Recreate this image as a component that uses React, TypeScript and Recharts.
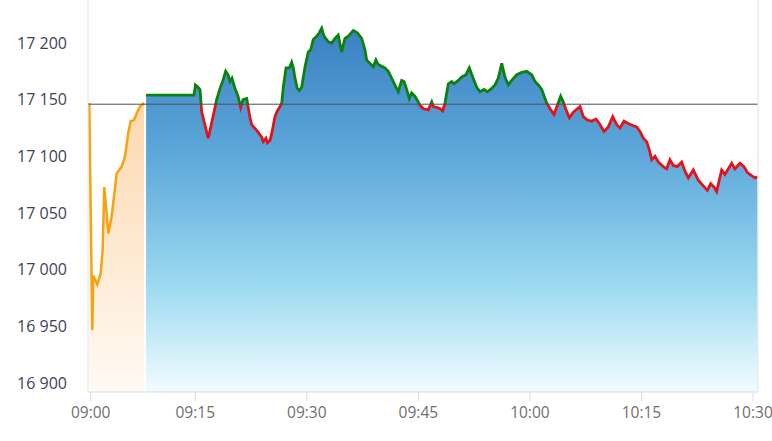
import React from "react"
import {
  ComposedChart,
  Area,
  XAxis,
  YAxis,
  ReferenceLine,
} from "recharts"

// minutes after 09:00
const preMins = [
  0.75, 1.16, 1.29, 1.83, 2.29, 2.55, 2.77, 3.31, 3.76, 4.44, 5.11, 5.55, 6.0,
  6.32, 6.76, 7.13, 7.57, 8.11,
]
const prePrices = [
  17147, 16947, 16995, 16987, 16997, 17017, 17073, 17032, 17047, 17085, 17091,
  17100, 17121, 17131, 17132, 17138, 17144, 17147,
]

const mainMins = [
  8.39, 14.84, 15.03, 15.37, 15.64, 15.87, 16.75, 17.39, 17.88, 18.33, 18.73,
  19.09, 19.4, 19.67, 19.94, 20.34, 20.75, 21.11, 21.42, 21.92, 22.36, 22.59,
  23.26, 23.94, 24.15, 24.51, 24.69, 25.05, 25.28, 25.72, 26.03, 26.4, 26.63,
  26.84, 27.21, 27.65, 27.97, 28.19, 28.41, 28.72, 28.99, 29.31, 29.76, 30.2,
  30.52, 30.87, 31.33, 31.68, 32.0, 32.31, 32.89, 33.35, 33.79, 34.23, 34.69,
  35.13, 35.58, 36.25, 36.79, 37.38, 37.82, 38.05, 38.5, 38.94, 39.3, 39.61,
  40.51, 40.96, 41.41, 41.99, 42.3, 42.76, 43.07, 43.43, 43.78, 44.1, 44.55,
  44.99, 45.22, 45.67, 46.34, 46.8, 47.01, 47.55, 47.91, 48.27, 48.58, 49.03,
  49.48, 49.79, 50.37, 50.83, 51.41, 51.85, 52.31, 52.85, 53.29, 53.83, 54.27,
  54.86, 55.31, 55.75, 56.21, 56.65, 57.1, 57.55, 58.23, 58.9, 59.57, 60.24,
  60.69, 61.13, 61.59, 62.26, 62.71, 63.24, 63.69, 64.14, 64.49, 64.86, 65.3,
  65.84, 66.38, 66.74, 67.18, 67.72, 68.31, 68.89, 69.33, 69.97, 70.54, 71.14,
  71.67, 72.11, 72.65, 73.23, 73.9, 74.36, 74.8, 75.25, 75.7, 76.05, 76.38,
  76.82, 77.27, 77.93, 78.39, 78.83, 79.28, 79.82, 80.41, 80.85, 81.3, 81.97,
  82.64, 83.31, 83.85, 84.31, 84.75, 85.11, 85.78, 86.23, 86.67, 87.13, 87.57,
  88.24, 88.78, 89.22, 89.81, 90.26, 90.6,
]
const mainPrices = [
  17154, 17154, 17163, 17161, 17159, 17139, 17116, 17135, 17150, 17160, 17167,
  17175, 17172, 17166, 17169, 17160, 17153, 17143, 17150, 17151, 17134, 17128,
  17123, 17117, 17113, 17116, 17112, 17114, 17120, 17135, 17140, 17144, 17147,
  17161, 17178, 17178, 17183, 17178, 17169, 17160, 17158, 17161, 17179, 17192,
  17194, 17203, 17206, 17209, 17213, 17206, 17201, 17200, 17204, 17207, 17192,
  17204, 17206, 17211, 17209, 17204, 17194, 17185, 17182, 17179, 17185, 17181,
  17178, 17175, 17169, 17161, 17157, 17167, 17166, 17159, 17151, 17156, 17153,
  17148, 17145, 17142, 17141, 17148, 17144, 17143, 17142, 17140, 17147, 17164,
  17166, 17164, 17167, 17170, 17172, 17178, 17170, 17161, 17157, 17159, 17157,
  17160, 17163, 17169, 17182, 17170, 17163, 17167, 17172, 17174, 17175, 17172,
  17166, 17163, 17159, 17147, 17142, 17137, 17145, 17153, 17148, 17141, 17134,
  17139, 17142, 17144, 17135, 17132, 17131, 17133, 17129, 17122, 17126, 17135,
  17128, 17125, 17131, 17129, 17127, 17126, 17122, 17116, 17113, 17106, 17097,
  17100, 17095, 17091, 17089, 17097, 17092, 17091, 17095, 17087, 17081, 17088,
  17079, 17074, 17070, 17076, 17073, 17069, 17088, 17084, 17089, 17094, 17089,
  17094, 17091, 17086, 17083, 17081, 17082,
]

const prevClose = 17146

const xTicks = [0.94, 15, 30, 45, 60, 75, 90]
const xTickLabels = ["09:00", "09:15", "09:30", "09:45", "10:00", "10:15", "10:30"]
const yTicks = [16900, 16950, 17000, 17050, 17100, 17150, 17200]

const X_DOMAIN: [number, number] = [0.58, 90.67]
const Y_DOMAIN: [number, number] = [16892.2, 17237.9]

const fmtPrice = (v: number) =>
  `${Math.floor(v / 1000)} ${String(v % 1000).padStart(3, "0")}`

export default function App() {
  const preData = preMins.map((t, i) => ({ t, v: prePrices[i] }))
  const mainData = mainMins.map((t, i) => ({ t, v: mainPrices[i] }))

  // where the stroke switches green -> red, inside the line's bounding box
  const hi = Math.max(...mainPrices)
  const lo = Math.min(...mainPrices)
  const split = (hi - prevClose) / (hi - lo)

  return (
    <div style={{ position: "absolute", left: 0, top: 0, width: 772, height: 441, background: "#fff" }}>
      <ComposedChart
        width={772}
        height={441}
        margin={{ top: 0, right: 14, bottom: 0, left: 0 }}
        style={{ fontFamily: "'Open Sans', sans-serif" }}
      >
        <defs>
          <linearGradient id="mainFill" x1="0" y1="0" x2="0" y2="1">
            <stop offset="0%" stopColor="#3a80c2" />
            <stop offset="35%" stopColor="#5ea8da" />
            <stop offset="70%" stopColor="#9ad9f0" />
            <stop offset="100%" stopColor="#f2fcff" />
          </linearGradient>
          <linearGradient id="preFill" x1="0" y1="0" x2="0" y2="1">
            <stop offset="0%" stopColor="#fcd8ae" />
            <stop offset="100%" stopColor="#fffaf4" />
          </linearGradient>
          <linearGradient id="mainStroke" x1="0" y1="0" x2="0" y2="1">
            <stop offset={split} stopColor="#0b820b" />
            <stop offset={split} stopColor="#e3121b" />
          </linearGradient>
        </defs>
        <XAxis
          type="number"
          dataKey="t"
          domain={X_DOMAIN}
          allowDataOverflow
          ticks={xTicks}
          tickFormatter={(_v, i) => xTickLabels[i]}
          height={49}
          stroke="#d6dce3"
          tickSize={9}
          tickMargin={6}
          tick={{ fill: "#6f6f6f", fontSize: 15.5 }}
          interval={0}
        />
        <YAxis
          type="number"
          domain={Y_DOMAIN}
          allowDataOverflow
          ticks={yTicks}
          tickFormatter={fmtPrice}
          width={88}
          tickLine={false}
          tickSize={0}
          tickMargin={21}
          axisLine={{ stroke: "#e3e3e3" }}
          tick={{ fill: "#3f4259", fontSize: 16 }}
          interval={0}
        />
        <Area
          data={preData}
          dataKey="v"
          type="linear"
          stroke="#f5a30f"
          strokeWidth={2.5}
          fill="url(#preFill)"
          fillOpacity={1}
          dot={false}
          activeDot={false}
          isAnimationActive={false}
        />
        <Area
          data={mainData}
          dataKey="v"
          type="linear"
          stroke="none"
          fill="url(#mainFill)"
          fillOpacity={1}
          dot={false}
          activeDot={false}
          isAnimationActive={false}
        />
        <ReferenceLine y={prevClose} stroke="#505050" strokeWidth={1} />
        <ReferenceLine x={X_DOMAIN[1]} stroke="#e3e3e3" strokeWidth={1} />
        <Area
          data={mainData}
          dataKey="v"
          type="linear"
          stroke="url(#mainStroke)"
          strokeWidth={2.8}
          fill="none"
          dot={false}
          activeDot={false}
          isAnimationActive={false}
        />
      </ComposedChart>
    </div>
  )
}
